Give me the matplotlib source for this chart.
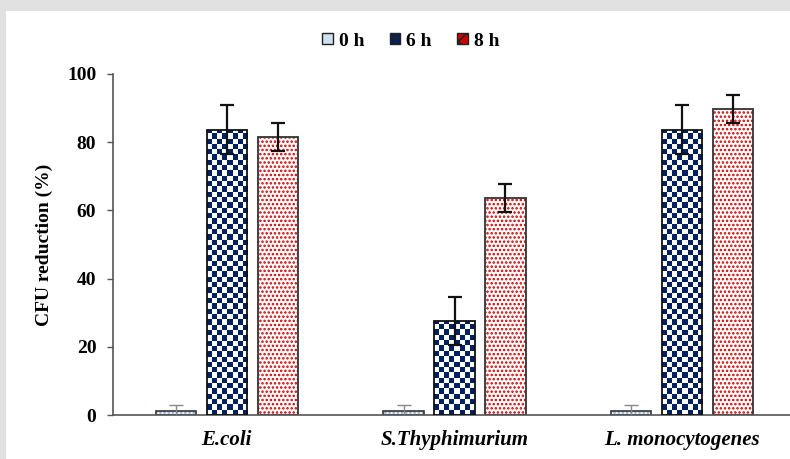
import numpy as np
import matplotlib
matplotlib.use("Agg")
import matplotlib.pyplot as plt
from matplotlib.patches import Rectangle, Patch

categories = ["E.coli", "S.Thyphimurium", "L. monocytogenes"]
series_names = ["0 h", "6 h", "8 h"]
vals_0h = [1.2, 1.2, 1.2]
err_0h = [1.8, 1.8, 1.8]
vals_6h = [83.6, 27.6, 83.6]
err_6h = [7.2, 7.0, 7.2]
vals_8h = [81.5, 63.6, 89.7]
err_8h = [4.1, 4.1, 4.1]
yticks = [0, 20, 40, 60, 80, 100]

plt.rcParams['font.family'] = ['Liberation Serif', 'DejaVu Serif']
plt.rcParams['hatch.linewidth'] = 1.2

fig = plt.figure(figsize=(7.9, 4.59), dpi=100)
fig.patch.set_facecolor('#e1e1e1')
fig.add_artist(Rectangle((6/790, 0), 1, 1 - 11/459, transform=fig.transFigure,
                         facecolor='white', edgecolor='none', zorder=0))

ax = fig.add_axes([113/790, (459-415)/459, 683/790, (415-74)/459])
ax.set_facecolor('none')

x = np.arange(len(categories))
w = 0.176
off = 0.224

navy = '#002060'
red = '#d00000'

# 0 h bars
b0 = ax.bar(x - off, vals_0h, w, facecolor='#eef4fa', edgecolor='#333333', linewidth=1.2,
            hatch='....', zorder=2)
for p in b0:
    p._hatch_color = matplotlib.colors.to_rgba('#7fa7cf')
ax.errorbar(x - off, vals_0h, yerr=err_0h, fmt='none', ecolor='#888888', elinewidth=1,
            capsize=5, capthick=1, zorder=4)

# 6 h bars - checkerboard
b6 = ax.bar(x, vals_6h, w, facecolor='white', edgecolor='#111111', linewidth=1.3, zorder=3)
cell_px = 5.3
for p in b6:
    x0 = p.get_x(); h = p.get_height(); bw = p.get_width()
    wpx = bw * 683 / 3.0
    hpx = h * 341 / 100.0
    nx = max(1, int(round(wpx / cell_px)))
    ny = max(1, int(np.ceil(hpx / cell_px)))
    ii, jj = np.indices((ny, nx))
    checker = ((ii + jj) % 2).astype(float)
    cmap = matplotlib.colors.ListedColormap(['white', navy])
    im = ax.imshow(checker, extent=(x0, x0 + bw, 0, ny * cell_px * 100 / 341), cmap=cmap,
                   aspect='auto', interpolation='nearest', origin='lower', zorder=2.5)
    im.set_clip_path(p)
    p.set_facecolor('none')
ax.errorbar(x, vals_6h, yerr=err_6h, fmt='none', ecolor='#111111', elinewidth=1.6,
            capsize=5, capthick=1.6, zorder=4)

# 8 h bars - red dots
b8 = ax.bar(x + off, vals_8h, w, facecolor='white', edgecolor='#333333', linewidth=1.3,
            hatch='....', zorder=2)
for p in b8:
    p._hatch_color = matplotlib.colors.to_rgba(red)
ax.errorbar(x + off, vals_8h, yerr=err_8h, fmt='none', ecolor='#111111', elinewidth=1.6,
            capsize=5, capthick=1.6, zorder=4)

ax.set_xlim(-0.5, 2.5)
ax.set_ylim(0, 100)
ax.set_yticks(yticks)
ax.set_yticklabels([str(t) for t in yticks], fontsize=14, fontweight='bold')
ax.set_xticks(x)
ax.set_xticklabels(categories, fontsize=15, fontweight='bold', style='italic')
ax.tick_params(axis='x', length=0, pad=11)
ax.tick_params(axis='y', length=4, width=1, color='#555555', pad=8, direction='out')
for s in ['top', 'right']:
    ax.spines[s].set_visible(False)
for s in ['left', 'bottom']:
    ax.spines[s].set_color('#555555')
    ax.spines[s].set_linewidth(1.2)
ax.set_ylabel('CFU reduction (%)', fontsize=14, fontweight='bold', labelpad=10)

handles = [Patch(facecolor='#cfe0f0', edgecolor='#222222', label=series_names[0]),
           Patch(facecolor=navy, edgecolor='#222222', hatch='++', label=series_names[1]),
           Patch(facecolor=red, edgecolor='#222222', hatch='xx', label=series_names[2])]
leg = fig.legend(handles=handles, loc='center', bbox_to_anchor=(0.52, 1 - 41/459), ncol=3,
                 frameon=False, prop={'weight': 'bold', 'size': 14}, handlelength=0.55,
                 handleheight=0.55, handletextpad=0.3, columnspacing=1.3)

fig.savefig('out.png', dpi=100, facecolor=fig.get_facecolor())
